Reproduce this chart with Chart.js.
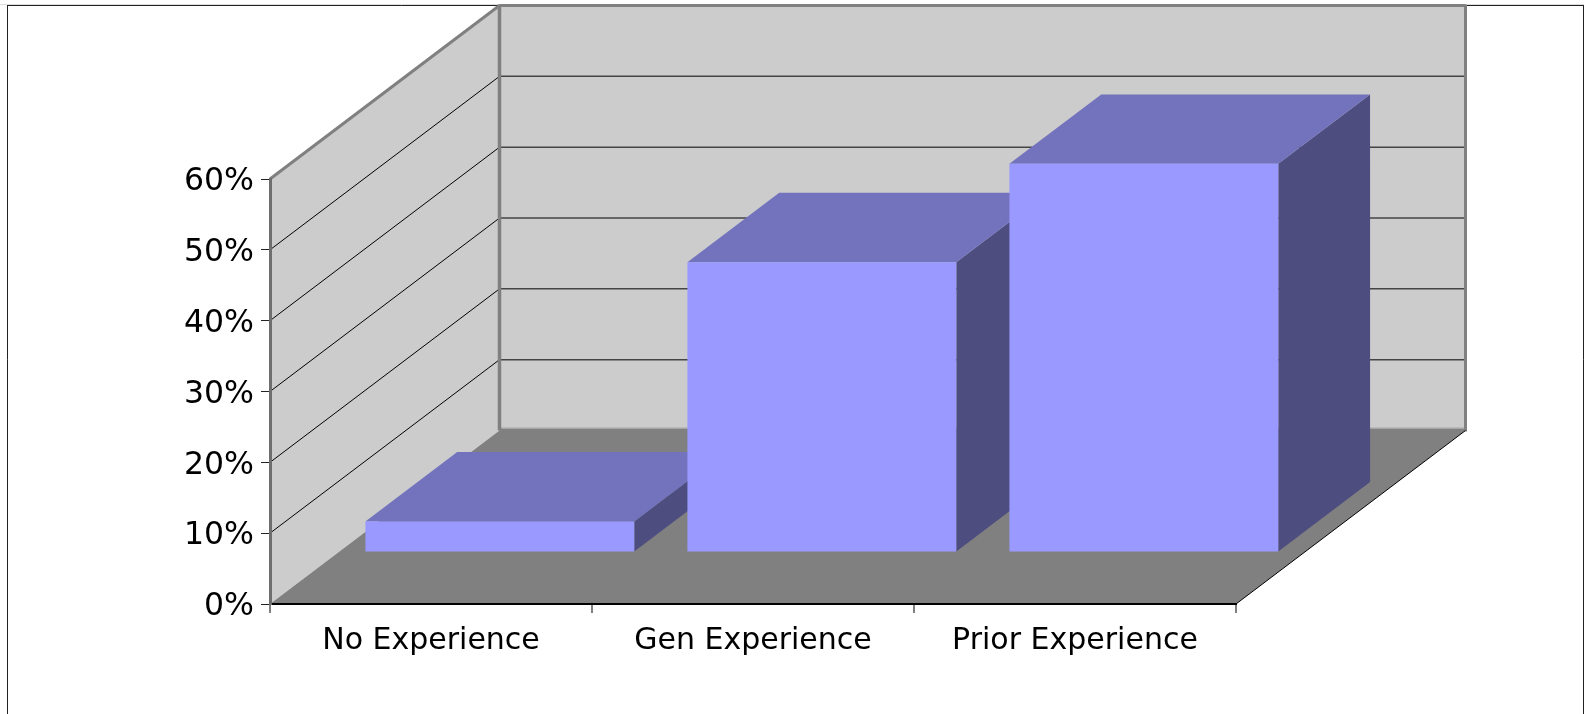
<!DOCTYPE html>
<html>
<head>
<meta charset="utf-8">
<style>
  html, body { margin: 0; padding: 0; background: #fff; }
  canvas { display: block; }
</style>
<script src="https://cdn.jsdelivr.net/npm/chart.js@4"></script>
</head>
<body>
<canvas id="myChart" width="1584" height="714"></canvas>
<script>
const categories = ['No Experience', 'Gen Experience', 'Prior Experience'];
const percentValues = [4.3, 40.9, 54.8];
const gridValues = [10, 20, 30, 40, 50, 60];

// how far the floor runs back, and where the bars sit on it
const depthX = 229.5, depthY = 173.5;
const barStart = 0.3, barDepth = 0.4;

function poly(ctx, pts, fill, stroke, lw) {
    ctx.beginPath();
    pts.forEach((p, i) => i ? ctx.lineTo(p[0], p[1]) : ctx.moveTo(p[0], p[1]));
    ctx.closePath();
    if (fill) { ctx.fillStyle = fill; ctx.fill(); }
    if (stroke) { ctx.strokeStyle = stroke; ctx.lineWidth = lw; ctx.stroke(); }
}

function line(ctx, x1, y1, x2, y2, color, lw) {
    ctx.beginPath();
    ctx.moveTo(x1, y1);
    ctx.lineTo(x2, y2);
    ctx.strokeStyle = color;
    ctx.lineWidth = lw;
    ctx.stroke();
}

const walls3d = {
    id: 'walls3d',
    beforeDraw(chart) {
        const ctx = chart.ctx, a = chart.chartArea, y = chart.scales.y;
        ctx.save();
        ctx.fillStyle = '#fff';
        ctx.fillRect(0, 0, chart.width, chart.height);

        /*outer frame*/
        line(ctx, 0, 4.5, 1584, 4.5, '#dddddd', 1);
        line(ctx, 7.5, 5.5, 7.5, 714, '#222', 1);
        line(ctx, 7, 5.5, 1584, 5.5, '#222', 1);
        line(ctx, 1583.5, 5.5, 1583.5, 714, '#222', 1);

        const backL = a.left + depthX, backR = a.right + depthX;
        const shift = v => y.getPixelForValue(v) - depthY;
        const floorTop = shift(0) - 2;

        /*back wall, side wall, floor*/
        poly(ctx, [[backL, shift(60)], [backR, shift(60)], [backR, shift(0)], [backL, shift(0)]], '#cccccc');
        poly(ctx, [[a.left, a.top], [backL, shift(60)], [backL, shift(0)], [a.left, a.bottom]], '#cccccc');
        poly(ctx, [[a.left, a.bottom], [backL, shift(0)], [backL, floorTop], [backR, floorTop], [backR, shift(0)], [a.right, a.bottom]], '#808080');

        gridValues.slice(0, -1).forEach(v => {
            const py = y.getPixelForValue(v);
            line(ctx, a.left, py, backL, py - depthY, '#000', 1);
            line(ctx, backL, py - depthY, backR, py - depthY, '#444', 1.5);
        });

        line(ctx, backL, floorTop - 0.5, backR, floorTop - 0.5, '#a6a6a6', 1);
        line(ctx, a.left, a.top, backL, shift(60), '#808080', 3);
        line(ctx, backL, shift(60), backR, shift(60), '#808080', 3);
        line(ctx, backL, shift(60) - 1, backL, shift(0), '#808080', 3.5);
        line(ctx, backR, shift(60) - 1, backR, shift(0) + 1, '#808080', 3);
        line(ctx, a.right, a.bottom, backR, shift(0), '#000', 1);
        ctx.restore();
    },
    beforeDatasetDraw(chart, args) {
        const ctx = chart.ctx;
        const offX = depthX * barStart, offY = depthY * barStart;
        const dx = depthX * barDepth, dy = depthY * barDepth;
        ctx.save();
        ctx.translate(offX, -offY);
        // tops and sides go under the fronts chart.js paints next
        args.meta.data.forEach(bar => {
            const l = bar.x - bar.width / 2, r = bar.x + bar.width / 2;
            poly(ctx, [[r, bar.y], [r + dx, bar.y - dy], [r + dx, bar.base - dy], [r, bar.base]], '#4d4d80');
            poly(ctx, [[l, bar.y], [l + dx, bar.y - dy], [r + dx, bar.y - dy], [r, bar.y]], '#7373bd');
        });
    },
    afterDatasetDraw(chart) {
        chart.ctx.restore();
    }
};

const ctx = document.getElementById('myChart').getContext('2d');
const chart = new Chart(ctx, {
    type: 'bar',
    plugins: [walls3d],
    data: {
        labels: categories,
        datasets: [{
            data: percentValues,
            backgroundColor: '#9999ff',
            borderWidth: 0,
            categoryPercentage: 1,
            barPercentage: 0.835,
            clip: false
        }]
    },
    options: {
        responsive: false,
        animation: false,
        layout: { padding: { top: 179, right: 348 } },
        plugins: { legend: { display: false }, tooltip: { enabled: false } },
        scales: {
            x: {
                afterFit: s => { s.height = 110; },
                border: { color: '#000', width: 2 },
                grid: { drawOnChartArea: false, color: '#808080', lineWidth: 2, tickLength: 9 },
                ticks: {
                    color: '#000',
                    maxRotation: 0,
                    padding: 10,
                    font: { family: '"DejaVu Sans"', size: 30 }
                }
            },
            y: {
                min: 0,
                max: 60,
                afterFit: s => { s.width = 270; },
                border: { color: '#6e6e6e', width: 3 },
                grid: { drawOnChartArea: false, color: '#222', lineWidth: 1, tickLength: 9 },
                ticks: {
                    stepSize: 10,
                    color: '#000',
                    padding: 7,
                    labelOffset: 3,
                    font: { family: '"DejaVu Sans"', size: 31.5 },
                    callback: v => v + '%'
                }
            }
        }
    }
});
</script>
</body>
</html>
